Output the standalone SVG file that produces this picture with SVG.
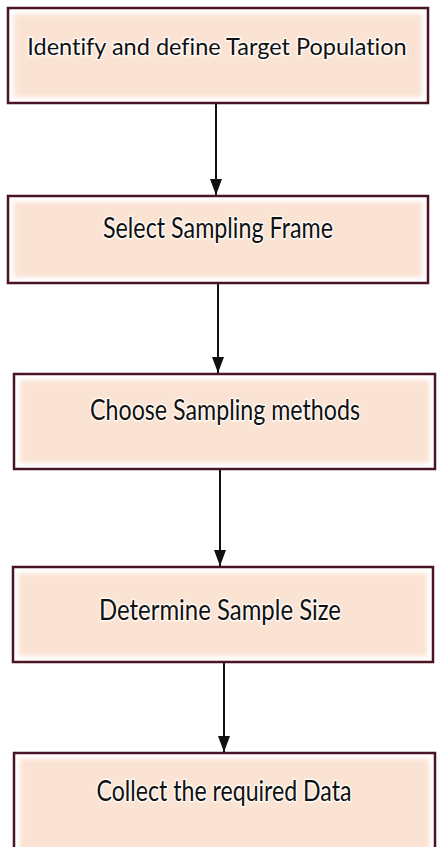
<svg xmlns="http://www.w3.org/2000/svg" width="437" height="847" viewBox="0 0 437 847">
<style>
.box{fill:#ffffff;stroke:#4a1424;stroke-width:2.5}
.inner{fill:#fbe3d4;filter:url(#soft)}
.lbl{font-family:Lato,"Open Sans","Liberation Sans",sans-serif;font-size:29px;font-variant-ligatures:none;fill:#111;text-anchor:middle;stroke:#fffaf5;stroke-width:3px;paint-order:stroke;stroke-linejoin:round}
.con{stroke:#111;stroke-width:2;fill:none}
</style>
<defs>
<filter id="soft" x="-5%" y="-5%" width="110%" height="110%"><feGaussianBlur stdDeviation="2"/></filter>
<marker id="ah" markerWidth="16" markerHeight="12" refX="16" refY="6" orient="auto" markerUnits="userSpaceOnUse" viewBox="0 0 16 12"><path d="M0,0 L16,6 L0,12 Z" fill="#111"/></marker>
</defs>
<g id="connectors">
<line class="con" x1="216" y1="103" x2="216" y2="195" marker-end="url(#ah)"/>
<line class="con" x1="218" y1="284" x2="218" y2="373" marker-end="url(#ah)"/>
<line class="con" x1="220" y1="470" x2="220" y2="566" marker-end="url(#ah)"/>
<line class="con" x1="224" y1="663" x2="224" y2="752" marker-end="url(#ah)"/>
</g>
<g id="n1">
<rect class="box" x="8" y="8" width="420" height="95"/>
<rect class="inner" x="14" y="14" width="408" height="83"/>
<text class="lbl" x="217" y="55" style="font-size:23.5px">Identify and define Target Population</text>
</g>
<g id="n2">
<rect class="box" x="8" y="196" width="420" height="87"/>
<rect class="inner" x="14" y="202" width="408" height="75"/>
<text class="lbl" x="218" y="238" textLength="230" lengthAdjust="spacingAndGlyphs">Select Sampling Frame</text>
</g>
<g id="n3">
<rect class="box" x="14" y="374" width="421" height="95"/>
<rect class="inner" x="20" y="380" width="409" height="83"/>
<text class="lbl" x="225" y="420" textLength="270" lengthAdjust="spacingAndGlyphs">Choose Sampling methods</text>
</g>
<g id="n4">
<rect class="box" x="13" y="567" width="420" height="95"/>
<rect class="inner" x="19" y="573" width="408" height="83"/>
<text class="lbl" x="220" y="620" textLength="242" lengthAdjust="spacingAndGlyphs">Determine Sample Size</text>
</g>
<g id="n5">
<rect class="box" x="14" y="753" width="421" height="100"/>
<rect class="inner" x="20" y="759" width="409" height="95"/>
<text class="lbl" x="224" y="801" textLength="255" lengthAdjust="spacingAndGlyphs">Collect the required Data</text>
</g>
</svg>
